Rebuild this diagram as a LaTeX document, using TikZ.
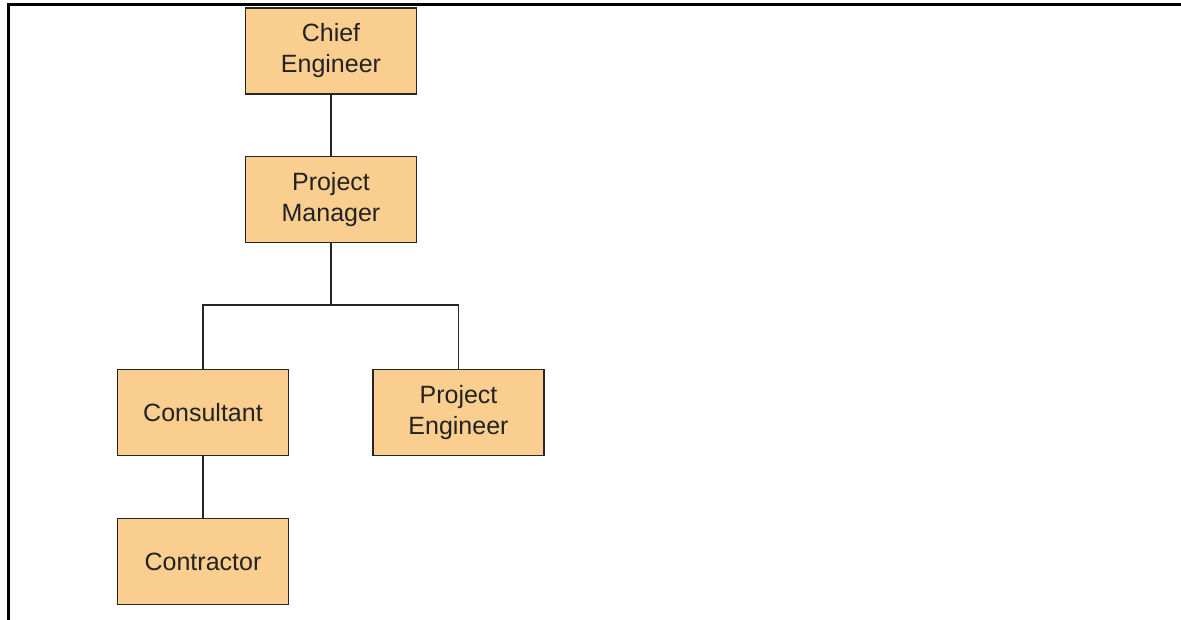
\documentclass[tikz,border=0pt]{standalone}
\usepackage{fontspec}
\setmainfont{Liberation Sans}
\definecolor{boxfill}{HTML}{F9CE8F}
\definecolor{boxtext}{HTML}{222222}
\begin{document}
\begin{tikzpicture}[x=1pt,y=-1pt,
  role/.style={draw=black!85, line width=1.5pt, fill=boxfill, rectangle,
    minimum width=171pt, minimum height=86pt, inner sep=0pt,
    align=center, text=boxtext, font=\fontsize{25}{31}\selectfont},
  link/.style={draw=black!85, line width=1.5pt}]
  \useasboundingbox (0,0) rectangle (1181,620);
  % outer frame (top and left edges)
  \draw[line width=3pt, line cap=rect] (1181,5) -- (8,5) -- (8,620);
  % roles
  \node[role] (chief) at (331,51) {Chief\\Engineer};
  \node[role] (pm) at (331,199.5) {Project\\Manager};
  \node[role] (cons) at (203,412.5) {Consultant};
  \node[role] (pe) at (458.5,412.5) {Project\\Engineer};
  \node[role] (contr) at (203,561.5) {Contractor};
  % reporting lines
  \coordinate (fork) at (331,305);
  \draw[link] (chief.south) -- (pm.north);
  \draw[link] (pm.south) -- (fork);
  \draw[link] (fork) -| (cons.north);
  \draw[link] (fork) -| (pe.north);
  \draw[link] (cons.south) -- (contr.north);
\end{tikzpicture}
\end{document}
